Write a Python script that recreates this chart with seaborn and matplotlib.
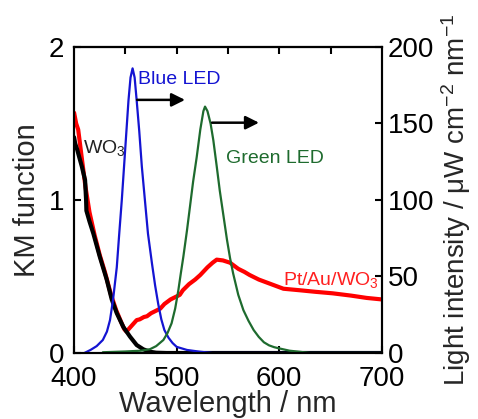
import matplotlib
matplotlib.use("Agg")
import matplotlib.pyplot as plt
import seaborn as sns
import numpy as np

# ---- data ----
wo3_nm = [400, 401, 403, 405, 407.5, 410.7, 411.7, 412, 415, 418.8, 425, 431.8, 436.7, 441.6,
          448, 454.5, 461, 467.5, 474, 480, 490, 520, 600, 700]
wo3_km = [1.41, 1.37, 1.33, 1.28, 1.22, 1.13, 1.0, 0.93, 0.86, 0.78, 0.63, 0.48, 0.35, 0.26,
          0.17, 0.107, 0.052, 0.024, 0.008, 0.002, 0.0, 0.0, 0.0, 0.0]

ptau_nm = [400, 402, 404, 407, 411, 415, 420, 425, 430, 436, 441, 446, 449, 451, 455, 461, 464,
           468, 471, 475, 481, 484, 488, 494, 500, 503, 506, 512, 518, 523, 530, 535, 539, 545,
           552, 560, 566, 571, 580, 588, 596, 604, 612, 620, 635, 652, 670, 685, 700]
ptau_km = [1.57, 1.50, 1.46, 1.30, 1.09, 0.92, 0.77, 0.64, 0.53, 0.38, 0.28, 0.20, 0.155, 0.14,
           0.17, 0.215, 0.22, 0.235, 0.24, 0.26, 0.28, 0.29, 0.32, 0.35, 0.37, 0.38, 0.41, 0.45,
           0.48, 0.51, 0.56, 0.59, 0.61, 0.605, 0.59, 0.55, 0.53, 0.51, 0.48, 0.46, 0.44, 0.42,
           0.415, 0.41, 0.40, 0.39, 0.375, 0.36, 0.35]

blue_nm = [410, 416, 422, 428, 432, 435, 438, 441.6, 444, 446.5, 450, 453, 455, 457, 459, 461,
           463.5, 466, 469, 472, 476, 479, 482, 485, 488, 492, 496, 500, 510, 522, 535, 600, 700]
blue_int = [0, 2, 4.5, 8.5, 14, 21.5, 35, 56, 78, 100, 135, 165, 180, 186, 180, 165,
            145, 122, 100, 78, 58, 44, 32, 22, 15, 10, 6.5, 4, 2, 0.9, 0, 0, 0]

green_nm = [428, 450, 465, 474, 480, 487, 491, 495, 498.5, 501.6, 504, 506.5, 510, 513, 516,
            519.5, 523, 526, 527.6, 530, 533, 535.7, 539, 542, 545.5, 549, 552, 555, 560, 565,
            570, 575, 580, 585, 590, 595, 600, 610, 620, 630, 700]
green_int = [0.5, 1, 1.5, 2.5, 4.5, 8.5, 13, 19.4, 29, 41, 52, 63, 80, 96, 112,
             128, 146, 158, 161, 158, 150, 139, 122, 106, 90, 74, 62, 52, 38, 28,
             21, 15, 10.5, 7, 5, 3.8, 3, 1.5, 0.8, 0, 0]

xticks = [400, 500, 600, 700]
top_ticks = [450, 500, 550, 600, 650]
yticks_left = [0, 1, 2]
yticks_right = [0, 50, 100, 150, 200]

# ---- style ----
sns.set_theme(style="ticks")
plt.rcParams['font.family'] = ['Liberation Sans', 'DejaVu Sans']
plt.rcParams['mathtext.fontset'] = 'custom'
plt.rcParams['mathtext.rm'] = 'Liberation Sans'
plt.rcParams['mathtext.it'] = 'Liberation Sans:italic'
plt.rcParams['mathtext.default'] = 'regular'

fig = plt.figure(figsize=(4.78, 4.19), dpi=100)
ax = fig.add_axes([0.155, 0.1575, 0.644, 0.7305])
ax2 = ax.twinx()

RED = "#ff0000"
BLUE = "#1414d2"
GREEN = "#1e6b2e"

sns.lineplot(x=ptau_nm, y=ptau_km, ax=ax, color=RED, lw=3.0, sort=False)
sns.lineplot(x=wo3_nm, y=wo3_km, ax=ax, color="black", lw=3.0, sort=False)
sns.lineplot(x=blue_nm, y=blue_int, ax=ax2, color=BLUE, lw=1.6, sort=False)
sns.lineplot(x=green_nm, y=green_int, ax=ax2, color=GREEN, lw=1.6, sort=False)

ax.set_xlim(400, 700)
ax.set_ylim(0, 2)
ax2.set_ylim(0, 200)
ax.set_xticks(xticks)
ax.set_yticks(yticks_left)
ax2.set_yticks(yticks_right)

for a in (ax, ax2):
    for s in a.spines.values():
        s.set_linewidth(1.5)
        s.set_color("black")
        s.set_visible(True)

ax.tick_params(axis='both', direction='in', length=5, width=1.5, labelsize=20,
               colors='black', right=False, top=False)
ax.tick_params(axis='x', pad=9)
ax.tick_params(axis='y', pad=7)
ax2.tick_params(axis='y', direction='in', length=5, width=1.5, labelsize=20,
                colors='black', pad=4)

sec = ax.secondary_xaxis('top')
sec.set_xticks(top_ticks)
sec.tick_params(direction='in', length=5, width=1.5, labeltop=False, colors='black')
sec.spines['top'].set_linewidth(1.5)

ax.set_xlabel("Wavelength / nm", fontsize=21, labelpad=-1)
ax.set_ylabel("KM function", fontsize=21, labelpad=6)
ax2.set_ylabel("Light intensity / μW cm$^{-2}$ nm$^{-1}$", fontsize=20, labelpad=4)

# annotations
ax2.text(462.3, 175.8, "Blue LED", color=BLUE, fontsize=14, ha='left', va='baseline')
ax2.text(548, 124.4, "Green LED", color=GREEN, fontsize=14, ha='left', va='baseline')
ax.text(408.8, 1.31, "WO$_3$", color="#222222", fontsize=14, ha='left', va='baseline')
ax.text(603.5, 0.444, "Pt/Au/WO$_3$", color="#ff2020", fontsize=14, ha='left', va='baseline')

arrow = dict(arrowstyle='-|>', color='black', lw=1.8, mutation_scale=20, shrinkA=0, shrinkB=0)
ax2.annotate("", xy=(508.1, 165.4), xytext=(461.4, 165.4), arrowprops=arrow)
ax2.annotate("", xy=(580.2, 150.5), xytext=(534.4, 150.5), arrowprops=arrow)

fig.savefig("out.png", dpi=100)
